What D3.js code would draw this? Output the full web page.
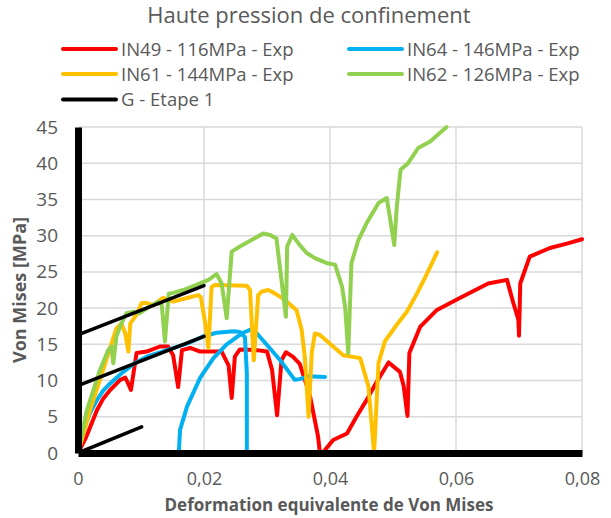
<!DOCTYPE html>
<html><head><meta charset="utf-8">
<script src="https://cdn.jsdelivr.net/npm/d3@7"></script>
<style>body{margin:0;background:#fff}svg{display:block}text{font-family:"Open Sans","Noto Sans",sans-serif}</style>
</head><body><svg id="c" width="611" height="518"></svg>
<script>
const title = "Haute pression de confinement";
const xTicks = [0, 0.02, 0.04, 0.06, 0.08];
const yTicks = [0, 5, 10, 15, 20, 25, 30, 35, 40, 45];
const xTitle = "Deformation equivalente de Von Mises";
const yTitle = "Von Mises [MPa]";
const seriesNames = ["IN49 - 116MPa - Exp", "IN64 - 146MPa - Exp", "IN61 - 144MPa - Exp", "IN62 - 126MPa - Exp", "G - Etape 1"];
const seriesColors = ["#FF0000", "#00B0F0", "#FFC000", "#92D050", "#000000"];

const in49 = [[0,0],[0.0013,2.2],[0.0024,4.6],[0.0030,5.9],[0.0040,7.5],[0.0051,8.7],[0.0067,10.1],[0.0075,10.4],[0.0079,9.7],[0.0084,8.7],[0.0093,13.8],[0.0109,14.0],[0.0130,14.7],[0.0143,14.7],[0.0151,13.5],[0.0159,9.1],[0.0165,14.2],[0.0178,14.5],[0.0194,14.0],[0.0228,14.0],[0.0239,12.1],[0.0244,7.6],[0.0249,13.3],[0.0257,14.3],[0.0284,14.2],[0.0300,14.0],[0.0308,11.5],[0.0316,5.2],[0.0323,12.8],[0.0330,13.9],[0.0341,13.3],[0.0352,12.3],[0.0368,8.0],[0.0381,2.3],[0.0384,0],[0.0390,0],[0.0392,0.4],[0.0405,1.8],[0.0427,2.7],[0.0442,5.0],[0.0458,7.3],[0.0474,9.8],[0.0493,12.5],[0.0511,11.2],[0.0517,9.2],[0.0523,5.1],[0.0526,13.8],[0.0543,17.4],[0.0569,19.7],[0.0606,21.4],[0.0651,23.4],[0.0681,23.9],[0.0691,20.7],[0.0699,18.4],[0.0700,16.2],[0.0702,23.4],[0.0717,27.1],[0.0749,28.3],[0.0776,28.9],[0.0800,29.5]];
const in64 = [[0,0],[0.0008,3.2],[0.0019,5.5],[0.0030,7.3],[0.0040,8.6],[0.0051,9.6],[0.0072,11.2],[0.0090,12.4],[0.0109,13.3],[0.0141,14.2],[0.0173,15.1],[0.0199,16.1],[0.0220,16.6],[0.0247,16.8],[0.0257,16.7],[0.0265,16.0],[0.0268,11.0],[0.0268,0],[0.0160,0],[0.0162,3.2],[0.0173,6.4],[0.0194,10.4],[0.0215,13.1],[0.0236,15.0],[0.0262,16.6],[0.0273,17.0],[0.0284,16.5],[0.0300,14.9],[0.0321,12.8],[0.0344,10.1],[0.0352,10.2],[0.0366,10.6],[0.0392,10.5]];
const in61 = [[0,0],[0.0006,1.8],[0.0019,5.9],[0.0040,11.5],[0.0051,14.5],[0.0061,17.2],[0.0069,17.9],[0.0075,16.5],[0.0080,14.0],[0.0083,17.9],[0.0093,19.1],[0.0101,20.7],[0.0109,20.7],[0.0120,20.4],[0.0130,21.1],[0.0135,21.4],[0.0151,20.9],[0.0173,21.4],[0.0191,21.8],[0.0195,21.5],[0.0202,17.9],[0.0207,14.5],[0.0212,22.9],[0.0217,23.2],[0.0268,23.1],[0.0273,22.5],[0.0279,12.8],[0.0286,21.8],[0.0292,22.3],[0.0302,22.5],[0.0313,22.0],[0.0329,21.1],[0.0347,19.7],[0.0355,17.0],[0.0360,13.3],[0.0366,5.0],[0.0371,13.8],[0.0376,16.5],[0.0384,16.3],[0.0405,14.7],[0.0421,13.5],[0.0448,13.1],[0.0461,9.2],[0.0470,0],[0.0477,12.4],[0.0487,15.4],[0.0506,17.7],[0.0522,19.5],[0.0538,22.0],[0.0553,24.6],[0.0570,27.7]];
const in62 = [[0,0],[0.0014,5.9],[0.0035,11.5],[0.0048,14.2],[0.0053,14.7],[0.0056,12.4],[0.0061,16.1],[0.0069,17.9],[0.0077,19.3],[0.0088,19.5],[0.0098,19.3],[0.0114,20.2],[0.0127,20.9],[0.0133,20.4],[0.0138,15.4],[0.0144,22.0],[0.0151,22.1],[0.0167,22.5],[0.0188,23.2],[0.0207,23.9],[0.0220,24.7],[0.0228,23.4],[0.0236,18.6],[0.0244,27.8],[0.0257,28.5],[0.0294,30.3],[0.0305,30.1],[0.0315,29.6],[0.0330,18.8],[0.0332,28.5],[0.0340,30.1],[0.0352,28.7],[0.0363,27.6],[0.0376,26.9],[0.0395,26.2],[0.0408,26.0],[0.0419,23.0],[0.0424,20.2],[0.0429,13.8],[0.0434,26.2],[0.0445,29.4],[0.0458,31.7],[0.0477,34.5],[0.0490,35.2],[0.0495,32.6],[0.0502,28.7],[0.0506,34.0],[0.0512,39.1],[0.0524,40.0],[0.0540,42.1],[0.0559,43.0],[0.0585,45.0]];
const gEtape1a = [[0,0],[0.0101,3.6]];
const gEtape1b = [[0,9.3],[0.0200,16.1]];
const gEtape1c = [[0,16.3],[0.0200,23.1]];

const svg = d3.select("#c");
const x = d3.scaleLinear().domain([0, 0.08]).range([78, 582]);
const y = d3.scaleLinear().domain([0, 45]).range([453, 127]);
const loc = d3.formatLocale({decimal: ",", thousands: " ", grouping: [3], currency: ["", ""]});
const fx = v => v === 0 ? "0" : loc.format(".2f")(v);
const txt = "#595959";

// gridlines
svg.append("g").selectAll("line").data(yTicks.filter(d => d > 0)).join("line")
  .attr("x1", x(0)).attr("x2", x(0.08)).attr("y1", d => y(d)).attr("y2", d => y(d))
  .attr("stroke", "#d9d9d9").attr("stroke-width", 1.5);
svg.append("g").selectAll("line").data(xTicks.filter(d => d > 0)).join("line")
  .attr("y1", y(0)).attr("y2", y(45)).attr("x1", d => x(d)).attr("x2", d => x(d))
  .attr("stroke", "#d9d9d9").attr("stroke-width", 1.5);

const line = d3.line().x(d => x(d[0])).y(d => y(d[1]));
svg.append("clipPath").attr("id", "pc").append("rect")
  .attr("x", x(0)).attr("y", y(45) - 3).attr("width", x(0.08) - x(0) + 3).attr("height", y(0) - y(45) + 3);
const plot = svg.append("g").attr("clip-path", "url(#pc)");
const seriesData = [[in49], [in64], [in61], [in62], [gEtape1a, gEtape1b, gEtape1c]];
seriesData.forEach((arrs, i) => {
  arrs.forEach(a => plot.append("path").attr("d", line(a)).attr("fill", "none")
    .attr("stroke", seriesColors[i]).attr("stroke-width", i === 4 ? 3.5 : 4)
    .attr("stroke-linejoin", "round").attr("stroke-linecap", "round"));
});

// axes (thick black)
const yAxis = svg.append("g").attr("transform", `translate(${x(0)},0)`)
  .call(d3.axisLeft(y).tickValues(yTicks).tickSize(0).tickPadding(20).tickFormat(d3.format("d")));
yAxis.select(".domain").attr("stroke", "#000").attr("stroke-width", 7);
yAxis.selectAll("text").attr("fill", txt).attr("font-size", 19).style("font-family", '"Open Sans"');
const xAxis = svg.append("g").attr("transform", `translate(0,${y(0)})`)
  .call(d3.axisBottom(x).tickValues(xTicks).tickSize(0).tickPadding(19).tickFormat(fx));
xAxis.select(".domain").attr("stroke", "#000").attr("stroke-width", 7);
xAxis.selectAll("text").attr("fill", txt).attr("font-size", 18).style("font-family", '"Open Sans"');

// titles
svg.append("text").attr("x", 309).attr("y", 23).attr("text-anchor", "middle")
  .attr("fill", txt).attr("font-size", 22).text(title);
svg.append("text").attr("x", 329).attr("y", 511).attr("text-anchor", "middle")
  .attr("fill", txt).attr("font-size", 17).attr("font-weight", "bold").text(xTitle);
svg.append("text").attr("transform", "translate(26,290) rotate(-90)").attr("text-anchor", "middle")
  .attr("fill", txt).attr("font-size", 18).attr("font-weight", "bold").text(yTitle);

// legend
const legPos = [[63, 49], [349, 49], [63, 74], [349, 74], [63, 99.5]];
seriesNames.forEach((n, i) => {
  const [lx, ly] = legPos[i];
  svg.append("line").attr("x1", lx).attr("x2", lx + 53).attr("y1", ly).attr("y2", ly)
    .attr("stroke", seriesColors[i]).attr("stroke-width", 4).attr("stroke-linecap", "round");
  svg.append("text").attr("x", lx + 58).attr("y", ly + 6.5).attr("fill", txt).attr("font-size", 18.5).text(n);
});
</script></body></html>
